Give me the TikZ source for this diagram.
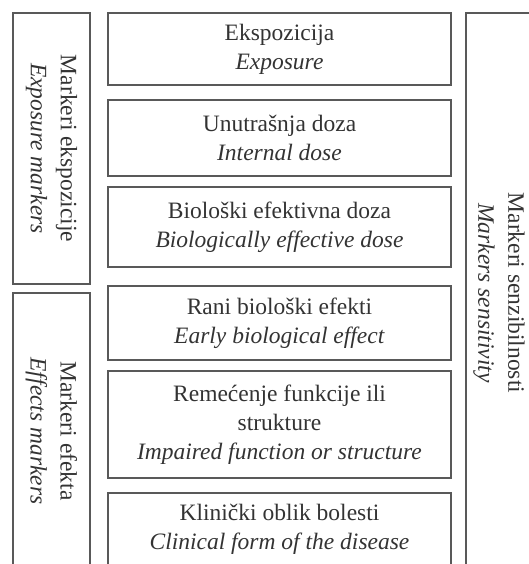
\documentclass[tikz,border=0pt]{standalone}
\usepackage{fontspec}
\setmainfont{Liberation Serif}
\usepackage{tikz}
\usetikzlibrary{positioning}

\begin{document}
\begin{tikzpicture}[x=1pt, y=-1pt,
    kutija/.style={draw=black!65, line width=1.1pt, minimum width=343pt,
        align=center, inner sep=0pt, text=black!80,
        font=\fontsize{23.5}{29}\selectfont},
    bocna/.style={draw=black!65, line width=1.1pt, rotate=-90,
        align=center, inner sep=0pt, text=black!80,
        font=\fontsize{23.5}{30}\selectfont}]
    \clip (0,0) rectangle (529,564);

    % Markeri sa strane
    \node[bocna, minimum width=271pt, minimum height=77pt] (mEkspozicije) at (51.5,148.5)
        {Markeri ekspozicije\\\textit{Exposure markers}};
    \node[bocna, minimum width=276pt, minimum height=77pt] (mEfekta) at (51.5,431)
        {Markeri efekta\\\textit{Effects markers}};
    \node[bocna, minimum width=560pt, minimum height=66pt] (mSenzibilnosti) at (499,293)
        {Markeri senzibilnosti\\\textit{Markers sensitivity}};

    % Faze u sredini
    \node[kutija, minimum height=72pt] (ekspozicija) at (279.5,49)
        {Ekspozicija\\\textit{Exposure}};
    \node[kutija, minimum height=76pt] (unutrasnja) at (279.5,138)
        {Unutrašnja doza\\\textit{Internal dose}};
    \node[kutija, minimum height=80pt] (bioloska) at (279.5,227)
        {Biološki efektivna doza\\\textit{Biologically effective dose}};
    \node[kutija, minimum height=74pt] (rani) at (279.5,323)
        {Rani biološki efekti\\\textit{Early biological effect}};
    \node[kutija, minimum height=107pt] (remecenje) at (279.5,424.5)
        {Remećenje funkcije ili\\strukture\\\textit{Impaired function or structure}};
    \node[kutija, minimum height=73pt] (klinicki) at (279.5,529.5)
        {Klinički oblik bolesti\\\textit{Clinical form of the disease}};
\end{tikzpicture}
\end{document}
